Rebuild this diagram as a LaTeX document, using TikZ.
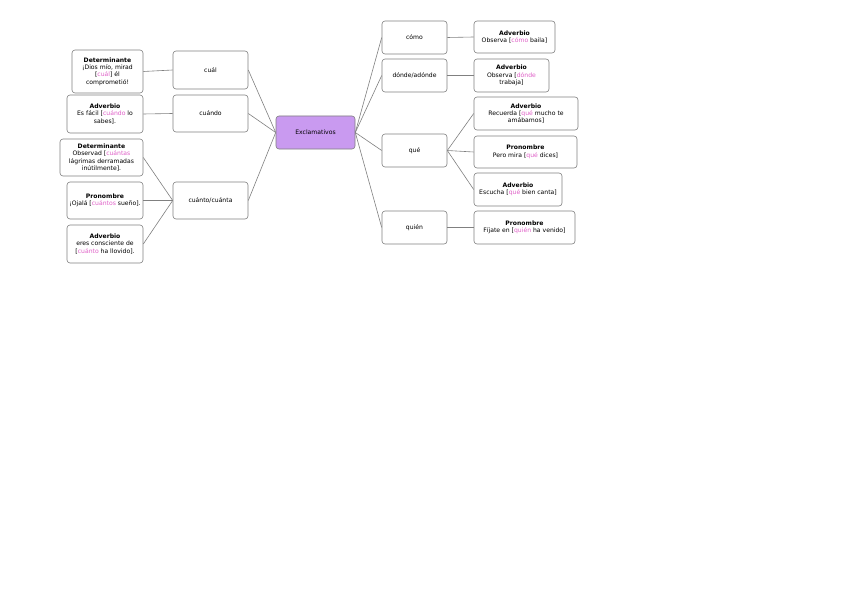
\documentclass[tikz,border=0pt]{standalone}
\usepackage{fontspec}
\setmainfont{DejaVu Sans}
\hyphenpenalty=10000
\exhyphenpenalty=10000
\definecolor{hl}{HTML}{E060C8}
\definecolor{lav}{HTML}{C99AF0}
\definecolor{edge}{HTML}{808080}
\begin{document}
\begin{tikzpicture}[x=1pt,y=-1pt,
  box/.style={draw=edge,rounded corners=3pt,fill=white,inner sep=1pt,align=center,font=\fontsize{6.1}{7.4}\selectfont,line width=0.6pt},
  conn/.style={draw=edge,line width=0.6pt}]
\useasboundingbox (0,0) rectangle (848,599);
\fill[white] (0,0) rectangle (848,599);
% central
\node[box,fill=lav,minimum width=79pt,minimum height=33pt] (c) at (315.5,132.5) {Exclamativos};
% left mids
\node[box,minimum width=75pt,minimum height=38pt] (cual) at (210.5,70) {cuál};
\node[box,minimum width=75pt,minimum height=37pt] (cuando) at (210.5,113.5) {cuándo};
\node[box,minimum width=75pt,minimum height=37pt] (cuanto) at (210.5,200.5) {cuánto/cuánta};
% left leaves
\node[box,minimum width=71pt,minimum height=43pt] (l1) at (107.5,71.5) {\textbf{Determinante}\\¡Dios mío, mirad\\ {[}\textcolor{hl}{cuál}] él\\ comprometió!};
\node[box,minimum width=76pt,minimum height=38pt] (l2) at (105,114) {\textbf{Adverbio}\\Es fácil [\textcolor{hl}{cuándo} lo\\ sabes].};
\node[box,minimum width=83pt,minimum height=37pt] (l3) at (101.5,157.5) {\textbf{Determinante}\\Observad [\textcolor{hl}{cuántas}\\ lágrimas derramadas\\ inútilmente].};
\node[box,minimum width=76pt,minimum height=37pt] (l4) at (105,200.5) {\textbf{Pronombre}\\¡Ojalá [\textcolor{hl}{cuántos} sueño].};
\node[box,minimum width=76pt,minimum height=38pt] (l5) at (105,244) {\textbf{Adverbio}\\eres consciente de\\ {[}\textcolor{hl}{cuánto} ha llovido].};
% right mids
\node[box,minimum width=65pt,minimum height=33pt] (como) at (414.5,37.5) {cómo};
\node[box,minimum width=65pt,minimum height=33pt] (donde) at (414.5,75.5) {dónde/adónde};
\node[box,minimum width=65pt,minimum height=33pt] (que) at (414.5,150.5) {qué};
\node[box,minimum width=65pt,minimum height=33pt] (quien) at (414.5,227.5) {quién};
% right leaves
\node[box,minimum width=81pt,minimum height=32pt] (r1) at (514.5,37) {\textbf{Adverbio}\\Observa [\textcolor{hl}{cómo} baila]};
\node[box,minimum width=75pt,minimum height=33pt] (r2) at (511.5,75.5) {\textbf{Adverbio}\\Observa [\textcolor{hl}{dónde}\\ trabaja]};
\node[box,minimum width=104pt,minimum height=33pt] (r3) at (526,113.5) {\textbf{Adverbio}\\Recuerda [\textcolor{hl}{qué} mucho te\\ amábamos]};
\node[box,minimum width=103pt,minimum height=32pt] (r4) at (525.5,152) {\textbf{Pronombre}\\Pero mira [\textcolor{hl}{qué} dices]};
\node[box,minimum width=88pt,minimum height=33pt] (r5) at (518,189.5) {\textbf{Adverbio}\\Escucha [\textcolor{hl}{qué} bien canta]};
\node[box,minimum width=101pt,minimum height=33pt] (r6) at (524.5,227.5) {\textbf{Pronombre}\\Fíjate en [\textcolor{hl}{quién} ha venido]};
% connectors
\draw[conn] (c.west) -- (cual.east);
\draw[conn] (c.west) -- (cuando.east);
\draw[conn] (c.west) -- (cuanto.east);
\draw[conn] (c.east) -- (como.west);
\draw[conn] (c.east) -- (donde.west);
\draw[conn] (c.east) -- (que.west);
\draw[conn] (c.east) -- (quien.west);
\draw[conn] (l1.east) -- (cual.west);
\draw[conn] (l2.east) -- (cuando.west);
\draw[conn] (l3.east) -- (cuanto.west);
\draw[conn] (l4.east) -- (cuanto.west);
\draw[conn] (l5.east) -- (cuanto.west);
\draw[conn] (como.east) -- (r1.west);
\draw[conn] (donde.east) -- (r2.west);
\draw[conn] (que.east) -- (r3.west);
\draw[conn] (que.east) -- (r4.west);
\draw[conn] (que.east) -- (r5.west);
\draw[conn] (quien.east) -- (r6.west);
\end{tikzpicture}
\end{document}
